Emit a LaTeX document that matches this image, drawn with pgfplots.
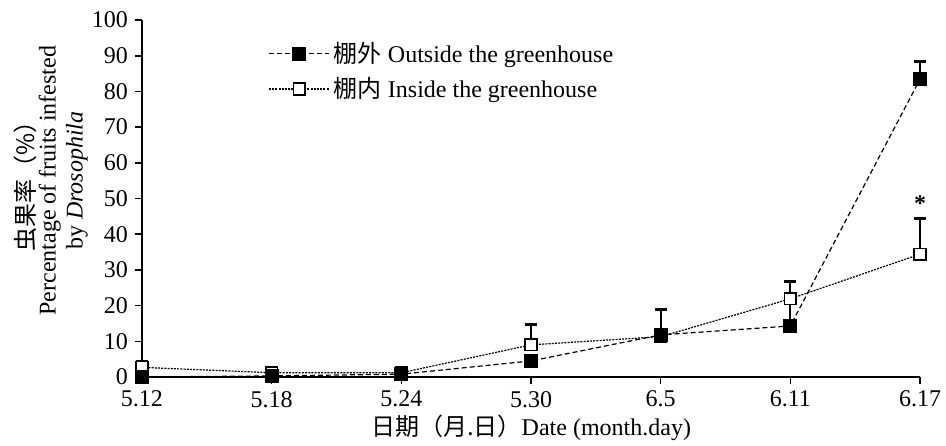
\documentclass[border=0pt]{standalone}
\usepackage{fontspec}
\setmainfont{Liberation Serif}
\newfontfamily\cjk{Noto Sans CJK SC}
\usepackage{pgfplots}
\pgfplotsset{compat=1.18}
\begin{document}
\begin{tikzpicture}
\begin{axis}[
  name=ax,
  scale only axis,
  width=389pt, height=178.5pt,
  xmin=0, xmax=6, ymin=0, ymax=100,
  axis lines=left,
  axis line style={line width=1pt, -},
  xtick={0,1,2,3,4,5,6},
  xticklabels={5.12,5.18,5.24,5.30,6.5,6.11,6.17},
  ytick={0,10,...,100},
  tick align=outside,
  major tick length=3.5pt,
  tick style={line width=0.8pt, black},
  /pgf/number format/assume math mode=true,
  tick label style={font=\fontsize{12}{14}\selectfont},
  xlabel={{\cjk 日期（月.日）}Date (month.day)},
  xlabel style={font=\fontsize{12}{14}\selectfont, yshift=3pt},
  ylabel={{\cjk 虫果率（\%）}\\[-2.5pt]Percentage of fruits infested\\[0.5pt]by \textit{Drosophila}},
  ylabel style={align=center, font=\fontsize{12}{13}\selectfont, at={(axis description cs:-0.117,0.55)}, anchor=center},
  legend style={draw=none, fill=none, at={(0.162,0.95)}, anchor=north west, font=\fontsize{12}{14}\selectfont, row sep=2pt, inner sep=0pt},
  legend cell align=left,
  reverse legend,
  legend image code/.code={\draw[mark repeat=2,mark phase=2] plot coordinates {(0cm,0cm) (0.53cm,0cm) (1.06cm,0cm)};},
  clip=false,
]
% Inside the greenhouse
\addplot[black, line width=0.6pt, dash pattern=on 1pt off 0.6pt,
  mark=square*, mark size=2.9pt,
  mark options={solid, fill=white, draw=black, line width=0.8pt},
  error bars/.cd, y dir=plus, y explicit,
  error bar style={line width=1pt, solid, black},
  error mark options={rotate=90, mark size=3pt, line width=1.6pt, solid}]
coordinates {
(0,2.7) +- (0,1.6)
(1,1.2) +- (0,0)
(2,1.2) +- (0,0)
(3,9.0) +- (0,5.8)
(4,11.3) +- (0,0)
(5,21.9) +- (0,4.9)
(6,34.4) +- (0,10.1)
};
\addlegendentry{{\cjk 棚内} Inside the greenhouse}
% Outside the greenhouse
\addplot[black, line width=0.6pt, dash pattern=on 2.5pt off 1.5pt,
  mark=square*, mark size=3.2pt,
  mark options={solid, fill=black, draw=black},
  error bars/.cd, y dir=plus, y explicit,
  error bar style={line width=1pt, solid, black},
  error mark options={rotate=90, mark size=3pt, line width=1.6pt, solid}]
coordinates {
(0,0) +- (0,0)
(1,0.3) +- (0,0)
(2,0.8) +- (0,0)
(3,4.5) +- (0,0)
(4,11.8) +- (0,7.2)
(5,14.3) +- (0,7.5)
(6,83.4) +- (0,4.9)
};
\addlegendentry{{\cjk 棚外} Outside the greenhouse}
\node[font=\fontsize{12}{12}\selectfont\bfseries, yshift=-2pt] at (axis cs:6,49.8) {*};
\end{axis}
\pgfresetboundingbox
\path ([shift={(-71pt,-34pt)}]ax.south west) rectangle ([shift={(13pt,10pt)}]ax.north east);
\end{tikzpicture}
\end{document}
